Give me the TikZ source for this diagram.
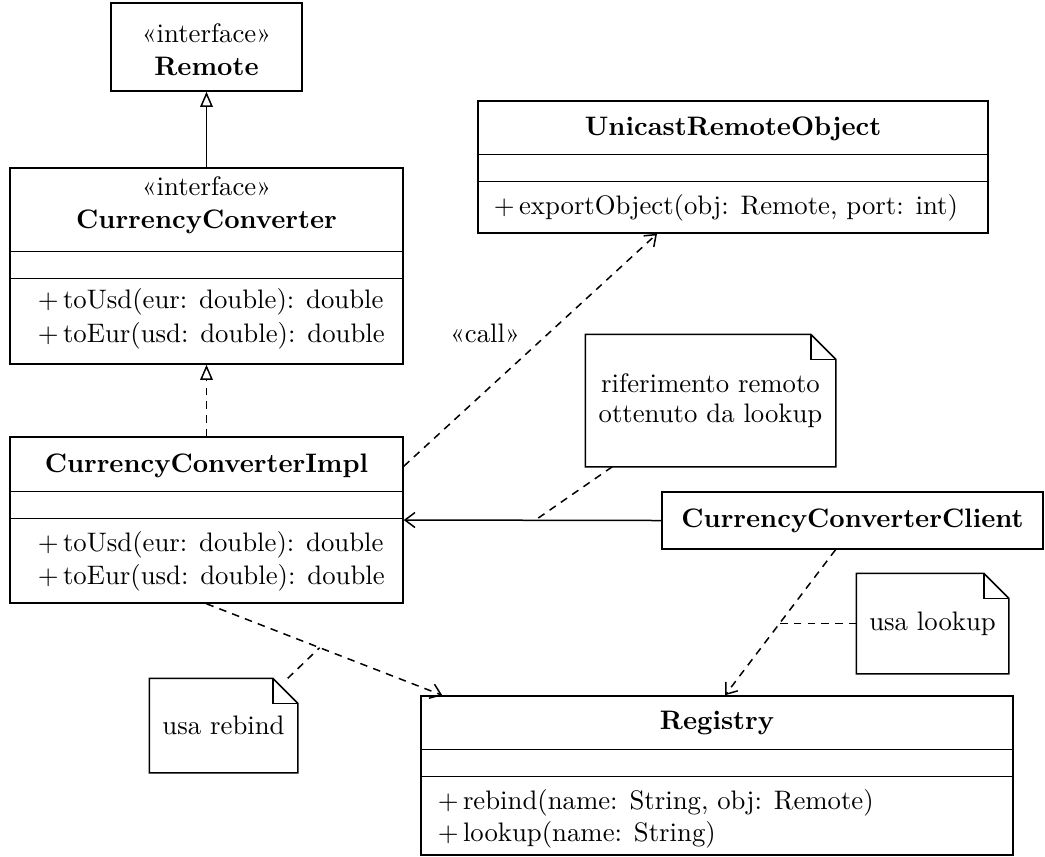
\documentclass[tikz,border=0pt]{standalone}
\usepackage{fontspec}
\usetikzlibrary{arrows.meta}
\newcommand\umlfont{\fontsize{10.7}{13.6}\selectfont}
\newcommand\notefont{\fontsize{10.7}{12}\selectfont}
\begin{document}
\begin{tikzpicture}[x=0.4pt,y=-0.4pt,line width=0.6pt,
  box/.style={draw,rectangle,inner sep=0pt},
  txt/.style={inner sep=0pt,font=\umlfont},
  ttl/.style={inner sep=0pt,font=\umlfont\bfseries},
  meth/.style={inner sep=0pt,anchor=west,font=\umlfont},
  notebox/.style={rectangle,inner sep=0pt,align=center,font=\notefont},
  opentri/.style={-{Triangle[open,length=6pt,width=5pt]}},
  barb/.style={-{Straight Barb[length=4pt,width=6pt]}},
  dep/.style={dashed,dash pattern=on 3pt off 2.5pt}
]
\useasboundingbox (0,0) rectangle (1045,856);

% Remote
\node[box,minimum width=76.4pt,minimum height=35.2pt] (remote) at (206.5,47) {};
\node[txt] (remoteS) at (206.5,33) {«interface»};
\node[ttl] (remoteT) at (206.5,66) {Remote};

% CurrencyConverter
\node[box,minimum width=157.2pt,minimum height=78.4pt] (cc) at (206.5,266) {};
\node[txt] (ccS) at (206.5,186) {«interface»};
\node[ttl] (ccT) at (206.5,222) {CurrencyConverter};
\draw ([yshift=-33.6pt]cc.north west) -- ([yshift=-33.6pt]cc.north east);
\draw ([yshift=-44.4pt]cc.north west) -- ([yshift=-44.4pt]cc.north east);
\node[meth] (ccM1) at (37,302) {+\,toUsd(eur: double): double};
\node[meth] (ccM2) at (37,336) {+\,toEur(usd: double): double};

% CurrencyConverterImpl
\node[box,minimum width=157.2pt,minimum height=66.4pt] (impl) at (206.5,520) {};
\node[ttl] (implT) at (206.5,466) {CurrencyConverterImpl};
\draw ([yshift=-22pt]impl.north west) -- ([yshift=-22pt]impl.north east);
\draw ([yshift=-32.8pt]impl.north west) -- ([yshift=-32.8pt]impl.north east);
\node[meth] (implM1) at (37,545) {+\,toUsd(eur: double): double};
\node[meth] (implM2) at (37,578) {+\,toEur(usd: double): double};

% UnicastRemoteObject
\node[box,minimum width=204pt,minimum height=52.8pt] (uro) at (733,167) {};
\node[ttl] (uroT) at (733,129) {UnicastRemoteObject};
\draw ([yshift=-21.6pt]uro.north west) -- ([yshift=-21.6pt]uro.north east);
\draw ([yshift=-32.4pt]uro.north west) -- ([yshift=-32.4pt]uro.north east);
\node[meth] (uroM1) at (493,208) {+\,exportObject(obj: Remote, port: int)};

% CurrencyConverterClient
\node[box,minimum width=152.4pt,minimum height=22.8pt] (client) at (852.5,520.5) {};
\node[ttl] (clientT) at (852.5,521) {CurrencyConverterClient};

% Registry
\node[box,minimum width=236.8pt,minimum height=63.6pt] (reg) at (717,775.5) {};
\node[ttl] (regT) at (717,723) {Registry};
\draw ([yshift=-21.6pt]reg.north west) -- ([yshift=-21.6pt]reg.north east);
\draw ([yshift=-32.4pt]reg.north west) -- ([yshift=-32.4pt]reg.north east);
\node[meth] (regM1) at (437,803) {+\,rebind(name: String, obj: Remote)};
\node[meth] (regM2) at (437,835) {+\,lookup(name: String)};

% Notes
\node[notebox,minimum width=99.6pt,minimum height=52.4pt] (note1) at (710.5,400.5) {riferimento remoto\\ottenuto da lookup};
\node[notebox,minimum width=58.8pt,minimum height=37.2pt] (note2) at (223.5,725.5) {usa rebind};
\node[notebox,minimum width=60.4pt,minimum height=39.6pt] (note3) at (932.5,623.5) {usa lookup};
\foreach \n in {note1,note2,note3}{
  \draw (\n.north west) -- ([xshift=-10pt]\n.north east) -- ([yshift=-10pt]\n.north east)
        -- (\n.south east) -- (\n.south west) -- cycle;
  \draw ([xshift=-10pt]\n.north east) |- ([yshift=-10pt]\n.north east);
}

% Connectors
\draw[opentri] (cc.north) -- (remote.south);
\draw[opentri,dep] (impl.north) -- (cc.south);
\draw[barb,dep] ([yshift=-12pt]impl.north east) -- ([xshift=-30.4pt]uro.south);
\node[txt] (callL) at (485,333) {«call»};
\draw[barb] (client.west) -- coordinate[pos=0.49] (a1) (impl.east);
\draw[dep] ([xshift=10.8pt]note1.south west) -- (a1);
\draw[barb,dep] (impl.south) -- coordinate[pos=0.48] (a2) ([xshift=8.8pt]reg.north west);
\draw[dep] ([xshift=-4pt]note2.north east) -- (a2);
\draw[barb,dep] ([xshift=-6.8pt]client.south) -- coordinate[pos=0.5] (a3) ([xshift=3.2pt]reg.north);
\draw[dep] (note3.west) -- (note3.west -| a3);
\end{tikzpicture}
\end{document}
